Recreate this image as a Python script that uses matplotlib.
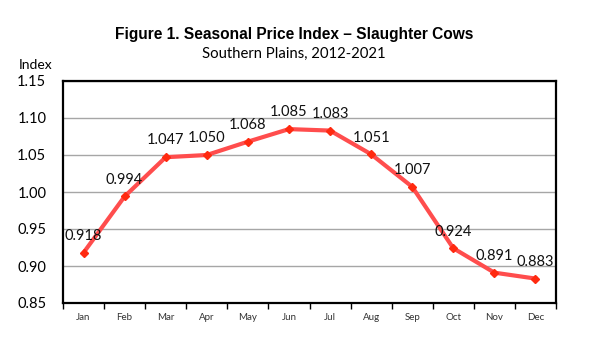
import matplotlib
matplotlib.use("Agg")
import matplotlib.pyplot as plt
from matplotlib.ticker import MultipleLocator, FixedLocator

# Dados do gráfico
meses = ['Jan', 'Feb', 'Mar', 'Apr', 'May', 'Jun',
         'Jul', 'Aug', 'Sep', 'Oct', 'Nov', 'Dec']
indice = [0.918, 0.994, 1.047, 1.050, 1.068, 1.085,
          1.083, 1.051, 1.007, 0.924, 0.891, 0.883]
rotulos = ['0.918', '0.994', '1.047', '1.050', '1.068', '1.085',
           '1.083', '1.051', '1.007', '0.924', '0.891', '0.883']

fig = plt.figure(figsize=(6.02, 3.52), dpi=100)
ax = fig.add_axes([63 / 602, 1 - 303 / 352, 493 / 602, 222 / 352])

x = list(range(len(meses)))
ax.plot(x, indice, color='#ff4d4d', linewidth=3, zorder=3)
ax.plot(x, indice, linestyle='none', marker='D', markersize=4.5,
        color='#ff2a10', zorder=4)

for xi, yi, txt in zip(x, indice, rotulos):
    ax.annotate(txt, (xi, yi), xytext=(0, 7), textcoords='offset points',
                ha='center', va='bottom', fontsize=10.5, family='Lato',
                color='#111111', zorder=5)

ax.set_xlim(-0.5, len(meses) - 0.5)
ax.set_ylim(0.85, 1.15)
ax.yaxis.set_major_locator(MultipleLocator(0.05))
ax.yaxis.set_major_formatter(plt.FuncFormatter(lambda v, p: f'{v:.2f}'))
ax.grid(axis='y', color='#a6a6a6', linewidth=1)
ax.set_axisbelow(True)

ax.set_xticks(x)
ax.set_xticklabels(meses, fontsize=7, family='Lato', color='#333333')
ax.tick_params(axis='x', which='major', length=0, pad=7)
ax.xaxis.set_minor_locator(FixedLocator([i - 0.5 for i in range(len(meses) + 1)]))
ax.tick_params(axis='x', which='minor', length=4, width=1, direction='out')
ax.tick_params(axis='y', length=0, pad=12, labelsize=10.5)
for lab in ax.get_yticklabels():
    lab.set_family('Lato')

for s in ax.spines.values():
    s.set_linewidth(1.6)
    s.set_color('black')

fig.text(294 / 602, 1 - 35 / 352, 'Figure 1. Seasonal Price Index – Slaughter Cows',
         ha='center', va='center', fontsize=11.2, fontweight='bold',
         family='Liberation Sans')
fig.text(294 / 602, 1 - 54 / 352, 'Southern Plains, 2012-2021',
         ha='center', va='center', fontsize=10.7, family='Lato')
fig.text(36 / 602, 1 - 65 / 352, 'Index', ha='center', va='center',
         fontsize=10, family='Lato')

fig.savefig('out.png', dpi=100)
